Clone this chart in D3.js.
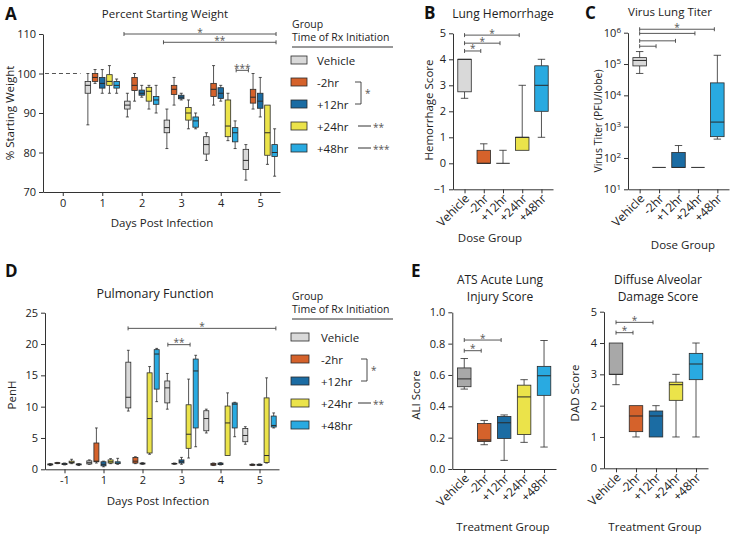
<!DOCTYPE html>
<html>
<head>
<meta charset="utf-8">
<script src="https://cdn.jsdelivr.net/npm/d3@7"></script>
<style>
  body { margin: 0; background: #fff; }
  svg { font-family: "Open Sans", sans-serif; }
  .axis path, .axis line { stroke: #333; stroke-width: 1; }
  .axis text { font-family: "Open Sans", sans-serif; font-size: 11px; fill: #222; }
  .axis text.rot { font-size: 12px; }
</style>
</head>
<body>
<div id="fig"></div>
<script>
// GROUPS
var groups = ["Vehicle", "-2hr", "+12hr", "+24hr", "+48hr"];
var groupColors = ["#d9d9d9", "#d5622b", "#1b6ca3", "#ebe34a", "#29aae1"];
var histoColors = ["#a8a8a8", "#d5622b", "#1b6ca3", "#ebe34a", "#29aae1"];

// A: percent starting weight, [min, q1, median, q3, max] per day
var weightDays = [1, 2, 3, 4, 5];
var weightBaseline = 100;
var weightVehicle = [[87, 95, 97, 98, 100], [89, 91, 92, 93, 95], [81, 85, 86.3, 88.2, 91], [78, 79.6, 82, 84, 85], [73, 75.7, 78, 80.8, 82]];
var weightM2 = [[97.5, 98, 99, 100, 101], [93, 95.7, 97, 99, 100], [92, 94.7, 96, 97, 99], [92, 94.2, 96, 97.5, 102], [91, 92.5, 94, 96, 100]];
var weightP12 = [[95, 96.3, 97.5, 99, 101], [94, 94.5, 95, 95.8, 97], [93.3, 93.6, 94, 94.5, 95], [93, 93.7, 95, 96.4, 97], [89, 91.2, 93, 95, 99]];
var weightP24 = [[95, 97, 98, 99.7, 102], [91, 93, 95.5, 96.5, 97], [86, 88.2, 90, 91.4, 93.3], [83, 84, 86.7, 93.3, 95], [77, 79.3, 85, 92, 92]];
var weightP48 = [[95, 96.3, 97, 98, 98.6], [90, 92.2, 93.3, 94.2, 97], [86, 86.4, 88, 89, 90], [81, 82.7, 85, 86.3, 88], [74, 79, 80, 82, 86]];
var weightSig = [{ x1: 1.55, x2: 5.4, y: 110, t: "*" }, { x1: 2.55, x2: 5.4, y: 107.9, t: "**" }, { x1: 4.39, x2: 4.7, y: 100.8, t: "***" }];

// B: hemorrhage score
var hemoStats = [[2.5, 2.75, 4, 4, 4], [0, 0, 0, 0.5, 0.75], [0, 0, 0, 0, 0.5], [0.5, 0.5, 1, 1, 3], [1, 2, 3, 3.75, 4]];
var hemoSig = [{ a: 0, b: 3, y: 4.93, t: "*" }, { a: 0, b: 2, y: 4.62, t: "*" }, { a: 0, b: 1, y: 4.32, t: "*" }];

// C: virus titer
var titerStats = [[5e4, 8.7e4, 1.3e5, 1.6e5, 2.5e5], [50, 50, 50, 50, 50], [50, 50, 50, 150, 250], [50, 50, 50, 50, 50], [400, 480, 1400, 2.5e4, 1.9e5]];
var titerSig = [{ a: 0, b: 4, y: 1.29e6, t: "*" }, { a: 0, b: 3, y: 9.5e5, t: "" }, { a: 0, b: 2, y: 5.5e5, t: "" }, { a: 0, b: 1, y: 3.7e5, t: "" }];

// D: PenH
var penhDays = ["-1", "1", "2", "3", "4", "5"];
var penhVehicle = [[0.6, 0.7, 0.8, 0.85, 0.9], [0.8, 0.85, 1.05, 1.35, 1.5], [9.3, 9.8, 11.5, 17.1, 19], [9.6, 10.6, 13, 14.1, 15.3], [5.8, 6.15, 8.1, 9.35, 9.6], [4.0, 4.4, 5.4, 6.5, 6.8]];
var penhM2 = [[0.9, 0.95, 1.0, 1.05, 1.1], [1.0, 1.2, 1.3, 4.2, 6.6], [0.9, 1.0, 1.3, 1.9, 2.0], [0.8, 0.85, 0.9, 0.95, 1.0], [0.6, 0.65, 0.8, 0.95, 1.0], [0.6, 0.65, 0.7, 0.8, 0.85]];
var penhP12 = [[0.7, 0.75, 0.85, 0.95, 1.0], [0.4, 0.55, 0.8, 1.2, 1.3], [0.8, 0.85, 0.9, 1.0, 1.05], [0.8, 1.0, 1.2, 1.5, 1.9], [0.7, 0.75, 0.85, 1.0, 1.05], [0.6, 0.65, 0.7, 0.8, 0.85]];
var penhP24 = [[0.9, 1.0, 1.1, 1.3, 1.6], [0.9, 1.0, 1.2, 1.5, 1.7], [2.4, 2.6, 8.1, 15.4, 16.4], [1.8, 3.35, 5.6, 10.3, 14.4], [2.2, 2.2, 7.4, 10.1, 12.2], [1.0, 1.1, 2.2, 11.4, 14.6]];
var penhP48 = [[0.6, 0.7, 0.8, 0.85, 0.9], [0.8, 0.9, 1.0, 1.2, 1.75], [10.8, 12.8, 18.4, 19.1, 19.3], [3.6, 6.6, 15.7, 17.6, 18.2], [5.2, 6.6, 10.4, 10.6, 10.7], [6.6, 6.75, 7.0, 8.5, 9.0]];
var penhSig = [{ x1: 1.63, x2: 5.42, y: 22.5, t: "*" }, { x1: 2.65, x2: 3.22, y: 19.9, t: "**" }];

// E: histopathology scores
var aliStats = [[0.51, 0.525, 0.575, 0.645, 0.705], [0.155, 0.175, 0.185, 0.29, 0.31], [0.055, 0.195, 0.295, 0.335, 0.345], [0.17, 0.22, 0.46, 0.535, 0.57], [0.14, 0.47, 0.595, 0.655, 0.82]];
var aliSig = [{ a: 0, b: 2, y: 0.823, t: "*" }, { a: 0, b: 1, y: 0.755, t: "*" }];
var dadStats = [[2.67, 3, 3, 4, 4], [1, 1.17, 1.67, 2, 2], [1, 1, 1.67, 1.83, 2], [1, 2.17, 2.67, 2.75, 3], [1, 2.83, 3.33, 3.67, 4]];
var dadSig = [{ a: 0, b: 2, y: 4.66, t: "*" }, { a: 0, b: 1, y: 4.33, t: "*" }];

var svg = d3.select("#fig").append("svg")
  .attr("width", 735)
  .attr("height", 540);

var ink = "#2a2a2a";
var intFmt = d3.format("d");

// draw one box + whiskers
function boxPlot(g, s, cx, y, w, fill) {
  var capW = w * 0.55;
  var sw = 0.8;
  if (s[4] > s[3]) {
    g.append("line").attr("x1", cx).attr("x2", cx).attr("y1", y(s[3])).attr("y2", y(s[4])).attr("stroke", ink).attr("stroke-width", sw);
    g.append("line").attr("x1", cx - capW / 2).attr("x2", cx + capW / 2).attr("y1", y(s[4])).attr("y2", y(s[4])).attr("stroke", ink).attr("stroke-width", sw);
  }
  if (s[0] < s[1]) {
    g.append("line").attr("x1", cx).attr("x2", cx).attr("y1", y(s[1])).attr("y2", y(s[0])).attr("stroke", ink).attr("stroke-width", sw);
    g.append("line").attr("x1", cx - capW / 2).attr("x2", cx + capW / 2).attr("y1", y(s[0])).attr("y2", y(s[0])).attr("stroke", ink).attr("stroke-width", sw);
  }
  g.append("rect")
    .attr("x", cx - w / 2).attr("y", y(s[3]))
    .attr("width", w).attr("height", Math.max(0, y(s[1]) - y(s[3])))
    .attr("fill", fill).attr("stroke", ink).attr("stroke-width", sw);
  g.append("line").attr("x1", cx - w / 2).attr("x2", cx + w / 2).attr("y1", y(s[2])).attr("y2", y(s[2])).attr("stroke", ink).attr("stroke-width", 1);
}

function sigBar(g, x1, x2, yy, label) {
  g.append("line").attr("x1", x1).attr("x2", x2).attr("y1", yy).attr("y2", yy).attr("stroke", "#444").attr("stroke-width", 0.9);
  g.append("line").attr("x1", x1).attr("x2", x1).attr("y1", yy - 2).attr("y2", yy + 2).attr("stroke", "#444").attr("stroke-width", 0.9);
  g.append("line").attr("x1", x2).attr("x2", x2).attr("y1", yy - 2).attr("y2", yy + 2).attr("stroke", "#444").attr("stroke-width", 0.9);
  if (label) {
    g.append("text").attr("x", (x1 + x2) / 2).attr("y", yy + 1.5)
      .attr("text-anchor", "middle").attr("font-size", 10).attr("fill", "#555").text(label);
  }
}

function addText(x, y, str, size, opts) {
  opts = opts || {};
  var t = svg.append("text").attr("x", x).attr("y", y)
    .attr("font-size", size).attr("fill", opts.fill || "#222")
    .attr("text-anchor", opts.anchor || "middle")
    .attr("font-weight", opts.weight || "normal")
    .text(str);
  return t;
}

function yLabel(x, y, str, size) {
  svg.append("text")
    .attr("transform", "translate(" + x + "," + y + ") rotate(-90)")
    .attr("text-anchor", "middle").attr("font-size", size).attr("fill", "#222")
    .text(str);
}

function panelLetter(x, y, str) {
  addText(x, y, str, 17, { anchor: "start", weight: "bold", fill: "#111" });
}

function legend(x0, titleY, rowY0, swW, labelX, stars) {
  var g = svg.append("g");
  g.append("text").attr("x", x0).attr("y", titleY).attr("font-size", 10.5).attr("fill", "#222").text("Group");
  g.append("text").attr("x", x0).attr("y", titleY + 13).attr("font-size", 10.5).attr("fill", "#222").text("Time of Rx Initiation");
  g.append("line").attr("x1", x0).attr("x2", x0 + 101).attr("y1", titleY + 19).attr("y2", titleY + 19).attr("stroke", "#333");
  groups.forEach(function(name, i) {
    var ry = rowY0 + i * 22;
    g.append("rect").attr("x", x0 - 1).attr("y", ry - 4).attr("width", swW).attr("height", 8)
      .attr("fill", groupColors[i]).attr("stroke", ink).attr("stroke-width", 0.8);
    g.append("text").attr("x", labelX).attr("y", ry + 4.5).attr("font-size", 11.5).attr("fill", "#222").text(name);
  });
  // bracket between -2hr and +12hr
  var bx = stars.bracketX;
  var y1 = rowY0 + 22, y2 = rowY0 + 44;
  g.append("path").attr("d", "M" + (bx - 6) + "," + y1 + "H" + bx + "V" + y2 + "H" + (bx - 6))
    .attr("fill", "none").attr("stroke", "#333").attr("stroke-width", 0.9);
  g.append("text").attr("x", bx + 4).attr("y", (y1 + y2) / 2 + 4).attr("font-size", 10).attr("fill", "#555").text("*");
  stars.rows.forEach(function(r) {
    var ry = rowY0 + r.i * 22;
    g.append("line").attr("x1", stars.dashX).attr("x2", stars.dashX + 13).attr("y1", ry).attr("y2", ry).attr("stroke", "#333");
    g.append("text").attr("x", stars.dashX + 15).attr("y", ry + 4.5).attr("font-size", 10).attr("fill", "#555").text(r.t);
  });
}

// ---------------- PANEL A ----------------
var xA = d3.scaleLinear().domain([-0.5, 5.5]).range([43, 280]);
var yA = d3.scaleLinear().domain([70, 110]).range([192, 34]);
var gA = svg.append("g");

gA.append("g").attr("class", "axis").attr("transform", "translate(0,192)")
  .call(d3.axisBottom(xA).tickValues([0, 1, 2, 3, 4, 5]).tickFormat(intFmt).tickSize(4).tickPadding(3).tickSizeOuter(0));
gA.append("g").attr("class", "axis").attr("transform", "translate(43,0)")
  .call(d3.axisLeft(yA).tickValues([70, 80, 90, 100, 110]).tickFormat(intFmt).tickSize(4).tickPadding(3).tickSizeOuter(0));

gA.append("line").attr("x1", xA(-0.45)).attr("x2", xA(0.45))
  .attr("y1", yA(weightBaseline)).attr("y2", yA(weightBaseline))
  .attr("stroke", "#555").attr("stroke-dasharray", "4,3");

var weightSeries = [weightVehicle, weightM2, weightP12, weightP24, weightP48];
weightSeries.forEach(function(series, gi) {
  series.forEach(function(s, di) {
    boxPlot(gA, s, xA(weightDays[di] + (gi - 2) * 0.182), yA, 5.5, groupColors[gi]);
  });
});
weightSig.forEach(function(d) { sigBar(gA, xA(d.x1), xA(d.x2), yA(d.y), d.t); });

panelLetter(5, 20, "A");
addText(165, 18, "Percent Starting Weight", 11.5);
yLabel(14, 113, "% Starting Weight", 11.5);
addText(162, 227, "Days Post Infection", 11.5);
legend(292, 28, 60, 16, 317, { bracketX: 361, dashX: 358, rows: [{ i: 3, t: "**" }, { i: 4, t: "***" }] });

// ---------------- category panels (B, C, E) ----------------
function catPanel(opts) {
  var x = d3.scalePoint().domain(groups).range([opts.x0, opts.x1]).padding(0.6);
  var y = opts.y;
  var g = svg.append("g");
  var y0 = y.range()[0];
  g.append("g").attr("class", "axis").attr("transform", "translate(0," + y0 + ")")
    .call(d3.axisBottom(x).tickSize(4).tickSizeOuter(0).tickFormat(""))
    .selectAll(".tick").append("text")
    .attr("class", "rot")
    .attr("transform", "translate(5,10) rotate(-45)")
    .attr("text-anchor", "end")
    .attr("fill", "#222")
    .text(function(d) { return d; });
  var ya = g.append("g").attr("class", "axis").attr("transform", "translate(" + opts.x0 + ",0)")
    .call(d3.axisLeft(y).tickValues(opts.ticks).tickSize(4).tickPadding(3).tickSizeOuter(0)
      .tickFormat(opts.fmt || intFmt));
  if (opts.log) {
    ya.selectAll(".tick text").each(function(d) {
      var t = d3.select(this).text("10");
      t.append("tspan").attr("dy", "-0.45em").attr("font-size", "8px").text(Math.round(Math.log10(d)));
    });
  }
  opts.stats.forEach(function(s, i) {
    boxPlot(g, s, x(groups[i]), y, opts.w, opts.colors[i]);
  });
  opts.sig.forEach(function(d) {
    sigBar(g, x(groups[d.a]), x(groups[d.b]) - 3, y(d.y), d.t);
  });
  return x;
}

// B
catPanel({
  x0: 453, x1: 553, w: 13.5,
  y: d3.scaleLinear().domain([-1, 5]).range([189.3, 33.3]),
  ticks: [-1, 0, 1, 2, 3, 4, 5],
  stats: hemoStats, colors: groupColors, sig: hemoSig
});
panelLetter(424, 19, "B");
addText(503, 18, "Lung Hemorrhage", 12);
yLabel(433, 110, "Hemorrhage Score", 11.5);
addText(490, 242, "Dose Group", 11.5);

// C
catPanel({
  x0: 628, x1: 729, w: 13.5,
  y: d3.scaleLog().domain([10, 1e6]).range([189.3, 32.7]),
  ticks: [10, 100, 1000, 1e4, 1e5, 1e6], log: true,
  stats: titerStats, colors: groupColors, sig: titerSig
});
panelLetter(585, 19, "C");
addText(670, 16, "Virus Lung Titer", 11.5);
yLabel(602, 121, "Virus Titer (PFU/lobe)", 10.5);
addText(683, 249, "Dose Group", 11.5);

// ---------------- PANEL D ----------------
var xD = d3.scaleLinear().domain([-0.5, 5.5]).range([45, 279]);
var yD = d3.scaleLinear().domain([0, 25]).range([469.3, 312.7]);
var gD = svg.append("g");
gD.append("g").attr("class", "axis").attr("transform", "translate(0,469.3)")
  .call(d3.axisBottom(xD).tickValues([0, 1, 2, 3, 4, 5]).tickSize(4).tickPadding(3).tickSizeOuter(0)
    .tickFormat(function(i) { return penhDays[i]; }));
gD.append("g").attr("class", "axis").attr("transform", "translate(45,0)")
  .call(d3.axisLeft(yD).tickValues([0, 5, 10, 15, 20, 25]).tickFormat(intFmt).tickSize(4).tickPadding(3).tickSizeOuter(0));

var penhSeries = [penhVehicle, penhM2, penhP12, penhP24, penhP48];
penhSeries.forEach(function(series, gi) {
  series.forEach(function(s, di) {
    boxPlot(gD, s, xD(di + (gi - 2) * 0.182), yD, 5, groupColors[gi]);
  });
});
penhSig.forEach(function(d) { sigBar(gD, xD(d.x1), xD(d.x2), yD(d.y), d.t); });

panelLetter(5, 277, "D");
addText(155, 298, "Pulmonary Function", 12.5);
yLabel(16, 395, "PenH", 11.5);
addText(158, 505, "Days Post Infection", 11.5);
legend(292, 300, 337, 18, 321, { bracketX: 367, dashX: 358, rows: [{ i: 3, t: "**" }] });

// ---------------- PANEL E ----------------
catPanel({
  x0: 452.3, x1: 556, w: 13.5,
  y: d3.scaleLinear().domain([0, 1]).range([469, 312.3]),
  ticks: [0, 0.2, 0.4, 0.6, 0.8, 1.0], fmt: d3.format(".1f"),
  stats: aliStats, colors: histoColors, sig: aliSig
});
catPanel({
  x0: 604, x1: 708, w: 13.5,
  y: d3.scaleLinear().domain([0, 5]).range([468.3, 311.7]),
  ticks: [0, 1, 2, 3, 4, 5],
  stats: dadStats, colors: histoColors, sig: dadSig
});
panelLetter(411, 277, "E");
addText(500, 284, "ATS Acute Lung", 12);
addText(500, 301, "Injury Score", 12);
addText(658, 284, "Diffuse Alveolar", 12);
addText(658, 301, "Damage Score", 12);
yLabel(420, 395, "ALI Score", 11.5);
yLabel(579, 393, "DAD Score", 11.5);
addText(503, 531, "Treatment Group", 11.5);
addText(655, 531, "Treatment Group", 11.5);
</script>
</body>
</html>
